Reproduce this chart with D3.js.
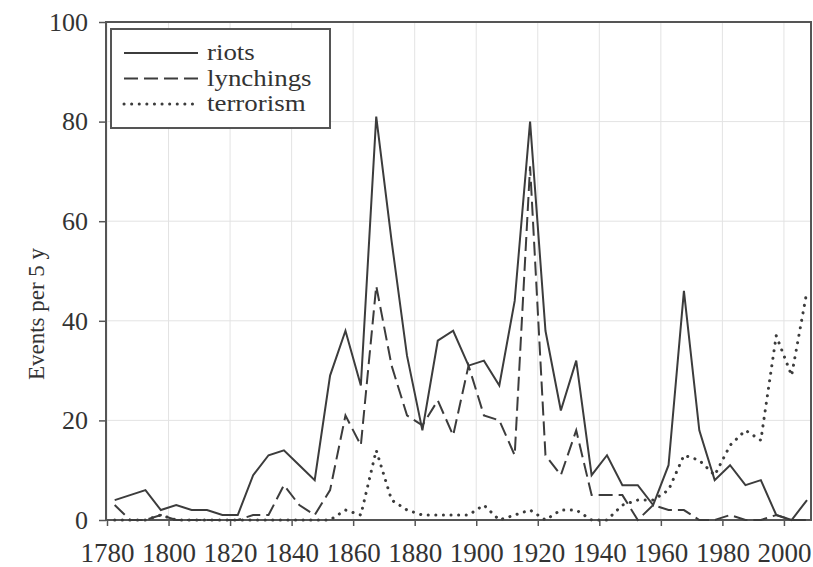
<!DOCTYPE html>
<html>
<head>
<meta charset="utf-8">
<script src="https://cdn.jsdelivr.net/npm/d3@7"></script>
<style>
  body { margin: 0; background: #fff; }
  text { font-family: "Liberation Serif", "Times New Roman", serif; fill: #333; }
</style>
</head>
<body>
<script>
// five-year periods, plotted at their midpoints
var periods = [1782.5, 1787.5, 1792.5, 1797.5, 1802.5, 1807.5, 1812.5, 1817.5, 1822.5, 1827.5,
               1832.5, 1837.5, 1842.5, 1847.5, 1852.5, 1857.5, 1862.5, 1867.5, 1872.5, 1877.5,
               1882.5, 1887.5, 1892.5, 1897.5, 1902.5, 1907.5, 1912.5, 1917.5, 1922.5, 1927.5,
               1932.5, 1937.5, 1942.5, 1947.5, 1952.5, 1957.5, 1962.5, 1967.5, 1972.5, 1977.5,
               1982.5, 1987.5, 1992.5, 1997.5, 2002.5, 2007.5];

var riots = [4, 5, 6, 2, 3, 2, 2, 1, 1, 9,
             13, 14, 11, 8, 29, 38, 27, 81, 56, 33,
             18, 36, 38, 31, 32, 27, 44, 80, 38, 22,
             32, 9, 13, 7, 7, 3, 11, 46, 18, 8,
             11, 7, 8, 1, 0, 4];

var lynchings = [3, 0, 0, 1, 0, 0, 0, 0, 0, 1,
                 1, 7, 3, 1, 6, 21, 15, 47, 31, 21,
                 19, 24, 17, 31, 21, 20, 13, 71, 13, 9,
                 18, 5, 5, 5, 0, 3, 2, 2, 0, 0,
                 1, 0, 0, 1, 0, 0];

var terrorism = [0, 0, 0, 1, 0, 0, 0, 0, 0, 0,
                 0, 0, 0, 0, 0, 2, 1, 14, 4, 2,
                 1, 1, 1, 1, 3, 0, 1, 2, 0, 2,
                 2, 0, 0, 3, 4, 4, 6, 13, 12, 9,
                 15, 18, 16, 37, 29, 46];

var xTicks = [1780, 1800, 1820, 1840, 1860, 1880, 1900, 1920, 1940, 1960, 1980, 2000];
var yTicks = [0, 20, 40, 60, 80, 100];

var seriesNames = ["riots", "lynchings", "terrorism"];
var dashes = { riots: null, lynchings: "14 6", terrorism: "0.1 7.5" };

var width = 813;
var height = 567;
var margin = { top: 22, left: 106, right: 2, bottom: 47 };

var xScale = d3.scaleLinear()
        .domain([1780, 2008.8])
        .range([margin.left + 1, width - margin.right]);

var yScale = d3.scaleLinear()
        .domain([0, 100])
        .range([height - margin.bottom, margin.top]);

var svg = d3.select("body")
      .append("svg")
      .attr("width", width)
      .attr("height", height);

// grid
svg.append("g")
    .selectAll("line")
    .data(xTicks)
    .enter().append("line")
    .attr("x1", d => xScale(d)).attr("x2", d => xScale(d))
    .attr("y1", yScale(0)).attr("y2", yScale(100))
    .style("stroke", "#e3e3e3").style("stroke-width", 1);

svg.append("g")
    .selectAll("line")
    .data(yTicks)
    .enter().append("line")
    .attr("x1", margin.left).attr("x2", width - margin.right)
    .attr("y1", d => yScale(d)).attr("y2", d => yScale(d))
    .style("stroke", "#e3e3e3").style("stroke-width", 1);

// axes
var xAxis = svg.append("g")
        .attr("transform", `translate(0,${yScale(0)})`)
        .call(d3.axisBottom(xScale).tickValues(xTicks).tickFormat(d3.format("d"))
              .tickSize(6).tickSizeOuter(0).tickPadding(17));
var yAxis = svg.append("g")
        .attr("transform", `translate(${margin.left},0)`)
        .call(d3.axisLeft(yScale).tickValues(yTicks).tickSize(7).tickSizeOuter(0).tickPadding(11));

[xAxis, yAxis].forEach(function(a) {
  a.select(".domain").remove();
  a.selectAll(".tick line").style("stroke", "#555").style("stroke-width", 1.5);
  a.selectAll(".tick text")
    .style("font-family", '"Liberation Serif", "Times New Roman", serif')
    .style("fill", "#333");
});
xAxis.selectAll(".tick text").style("font-size", "27px");
yAxis.selectAll(".tick text").style("font-size", "26px");

// frame
svg.append("rect")
    .attr("x", margin.left).attr("y", margin.top)
    .attr("width", width - margin.right - margin.left)
    .attr("height", yScale(0) - margin.top)
    .style("fill", "none").style("stroke", "#555").style("stroke-width", 2);

var yLabel = svg.append("text")
        .attr("text-anchor", "middle")
        .attr("transform", "translate(44,314)rotate(-90)")
        .text("Events per 5 y")
        .style("font-size", "23px");

// lines
var valueline = d3.line()
        .x(function(d) { return xScale(d.x); })
        .y(function(d) { return yScale(d.y); });

var values = { riots: riots, lynchings: lynchings, terrorism: terrorism };

seriesNames.forEach(function(name) {
  var data = periods.map(function(p, i) { return { x: p, y: values[name][i] }; });
  svg.append("path")
      .datum(data)
      .attr("d", valueline)
      .style("fill", "none")
      .style("stroke", "#3c3c3c")
      .style("stroke-width", name == "terrorism" ? 3 : 2)
      .style("stroke-linecap", name == "terrorism" ? "round" : "butt")
      .style("stroke-linejoin", "miter")
      .style("stroke-dasharray", dashes[name]);
});

// legend (text squeezed vertically a bit so the rows don't collide)
var legend = svg.append("g");
legend.append("rect")
    .attr("x", 111).attr("y", 29).attr("width", 219).attr("height", 99)
    .style("fill", "#fff").style("stroke", "#555").style("stroke-width", 2);

var rowY = [53, 78.5, 104];
seriesNames.forEach(function(name, i) {
  legend.append("line")
      .attr("x1", 124).attr("x2", 198)
      .attr("y1", rowY[i]).attr("y2", rowY[i])
      .style("stroke", "#3c3c3c")
      .style("stroke-width", name == "terrorism" ? 3 : 2)
      .style("stroke-linecap", name == "terrorism" ? "round" : "butt")
      .style("stroke-dasharray", dashes[name]);
  legend.append("text")
      .attr("transform", "translate(207," + (rowY[i] + 7) + ")scale(1.17,1)")
      .text(name)
      .style("font-size", "23px");
});
</script>
</body>
</html>
